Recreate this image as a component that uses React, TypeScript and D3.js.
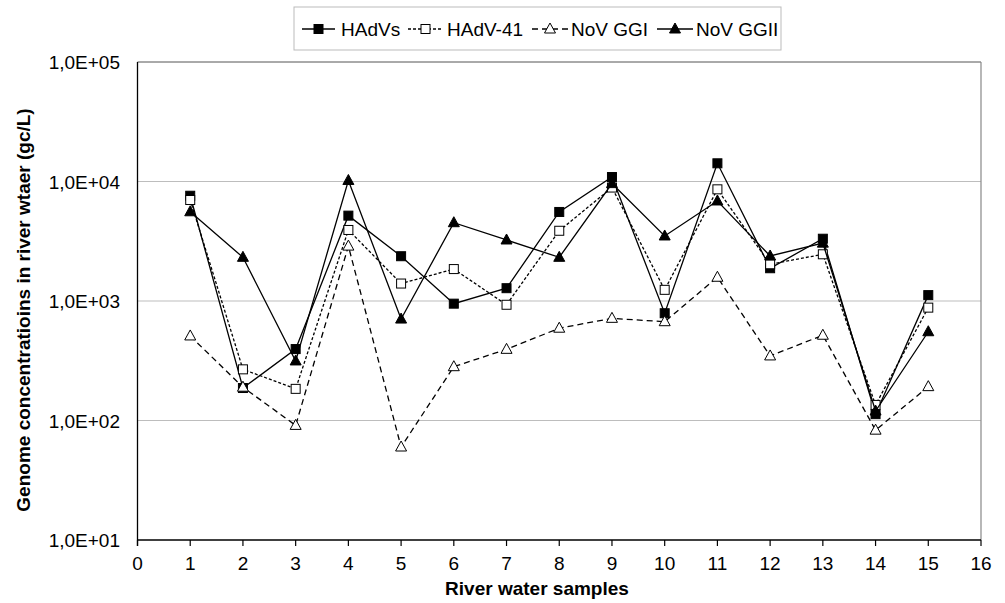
import React from 'react';
import * as d3 from 'd3';

const samples = [1, 2, 3, 4, 5, 6, 7, 8, 9, 10, 11, 12, 13, 14, 15];
const hadvs = [7600, 187, 396, 5180, 2370, 950, 1280, 5560, 10900, 790, 14200, 1880, 3320, 113, 1120];
const hadv41 = [7000, 268, 184, 3930, 1400, 1850, 930, 3870, 8900, 1240, 8600, 2030, 2460, 135, 880];
const novGGI = [510, 190, 91, 2880, 60, 282, 394, 592, 716, 671, 1580, 347, 517, 83, 192];
const novGGII = [5580, 2320, 315, 10200, 706, 4520, 3240, 2320, 9600, 3500, 6870, 2380, 3050, 120, 553];
const yTicks = [10, 100, 1000, 10000, 100000];
const yTickLabels = ['1,0E+01', '1,0E+02', '1,0E+03', '1,0E+04', '1,0E+05'];
const xTicks = d3.range(0, 17);

const series = [
  { name: 'HAdVs', values: hadvs, dash: null, marker: 'square', filled: true },
  { name: 'HAdV-41', values: hadv41, dash: '3,2', marker: 'square', filled: false },
  { name: 'NoV GGI', values: novGGI, dash: '6,4', marker: 'triangle', filled: false },
  { name: 'NoV GGII', values: novGGII, dash: null, marker: 'triangle', filled: true },
];

const FONT = '"Liberation Sans", Arial, sans-serif';

const Marker = ({ type, filled, x, y }) => {
  const fill = filled ? '#000' : '#fff';
  if (type === 'square') {
    return <rect x={x - 4.5} y={y - 4.5} width={9} height={9} fill={fill} stroke="#000" strokeWidth={1} />;
  }
  const p = `${x},${y - 6} ${x + 5.5},${y + 4} ${x - 5.5},${y + 4}`;
  return <polygon points={p} fill={fill} stroke="#000" strokeWidth={1} />;
};

export default function App() {
  const left = 137.5;
  const right = 981;
  const top = 62;
  const bottom = 540;

  const x = d3.scaleLinear().domain([0, 16]).range([left, right]);
  const y = d3.scaleLog().domain([10, 100000]).range([bottom, top]);

  const line = d3
    .line<number>()
    .x((d, i) => x(samples[i]))
    .y(d => y(d));

  const legendItems = [
    { x0: 302, x1: 335, tx: 341 },
    { x0: 408, x1: 443, tx: 447 },
    { x0: 532, x1: 568, tx: 571 },
    { x0: 657, x1: 693, tx: 696 },
  ];

  return (
    <svg width={1005} height={603} style={{ position: 'absolute', left: 0, top: 0, background: '#fff' }} fontFamily={FONT}>
      <rect x={0} y={0} width={1005} height={603} fill="#fff" />

      {/* gridlines */}
      {yTicks.slice(1, 4).map(t => (
        <line key={t} x1={left} x2={right} y1={y(t)} y2={y(t)} stroke="#bdbdbd" strokeWidth={1.2} />
      ))}
      <line x1={left} x2={right} y1={top} y2={top} stroke="#555" strokeWidth={1} />
      <line x1={right} x2={right} y1={top} y2={bottom} stroke="#888" strokeWidth={1.2} />

      {/* axes */}
      <line x1={left} x2={left} y1={top} y2={bottom + 6} stroke="#000" strokeWidth={1.3} />
      <line x1={left} x2={right} y1={bottom} y2={bottom} stroke="#000" strokeWidth={1.3} />
      {xTicks.map(t => (
        <g key={t}>
          <line x1={x(t)} x2={x(t)} y1={bottom} y2={bottom + 6} stroke="#000" strokeWidth={1.2} />
          <text x={x(t)} y={bottom + 30} textAnchor="middle" fontSize={19} fill="#000">
            {t}
          </text>
        </g>
      ))}
      {yTicks.map((t, i) => (
        <text key={t} x={120} y={y(t) + 7} textAnchor="end" fontSize={19} fill="#000">
          {yTickLabels[i]}
        </text>
      ))}

      <text x={537} y={595} textAnchor="middle" fontSize={19} fontWeight="bold">
        River water samples
      </text>
      <text
        transform={`translate(30, 310) rotate(-90)`}
        textAnchor="middle"
        fontSize={19}
        fontWeight="bold"
      >
        Genome concentratioins in river wtaer (gc/L)
      </text>

      {/* series */}
      {series.map(s => (
        <g key={s.name}>
          <path d={line(s.values) || ''} fill="none" stroke="#000" strokeWidth={1.3} strokeDasharray={s.dash || undefined} />
          {s.values.map((v, i) => (
            <Marker key={i} type={s.marker} filled={s.filled} x={x(samples[i])} y={y(v)} />
          ))}
        </g>
      ))}

      {/* legend */}
      <rect x={294} y={7} width={487} height={43} fill="#fff" stroke="#bbb" strokeWidth={1} />
      {series.map((s, i) => {
        const it = legendItems[i];
        const cy = 29;
        return (
          <g key={s.name}>
            <line x1={it.x0} x2={it.x1} y1={cy} y2={cy} stroke="#000" strokeWidth={1.3} strokeDasharray={s.dash || undefined} />
            <Marker type={s.marker} filled={s.filled} x={(it.x0 + it.x1) / 2} y={cy} />
            <text x={it.tx} y={cy + 7} fontSize={19} fill="#000">
              {s.name}
            </text>
          </g>
        );
      })}
    </svg>
  );
}
